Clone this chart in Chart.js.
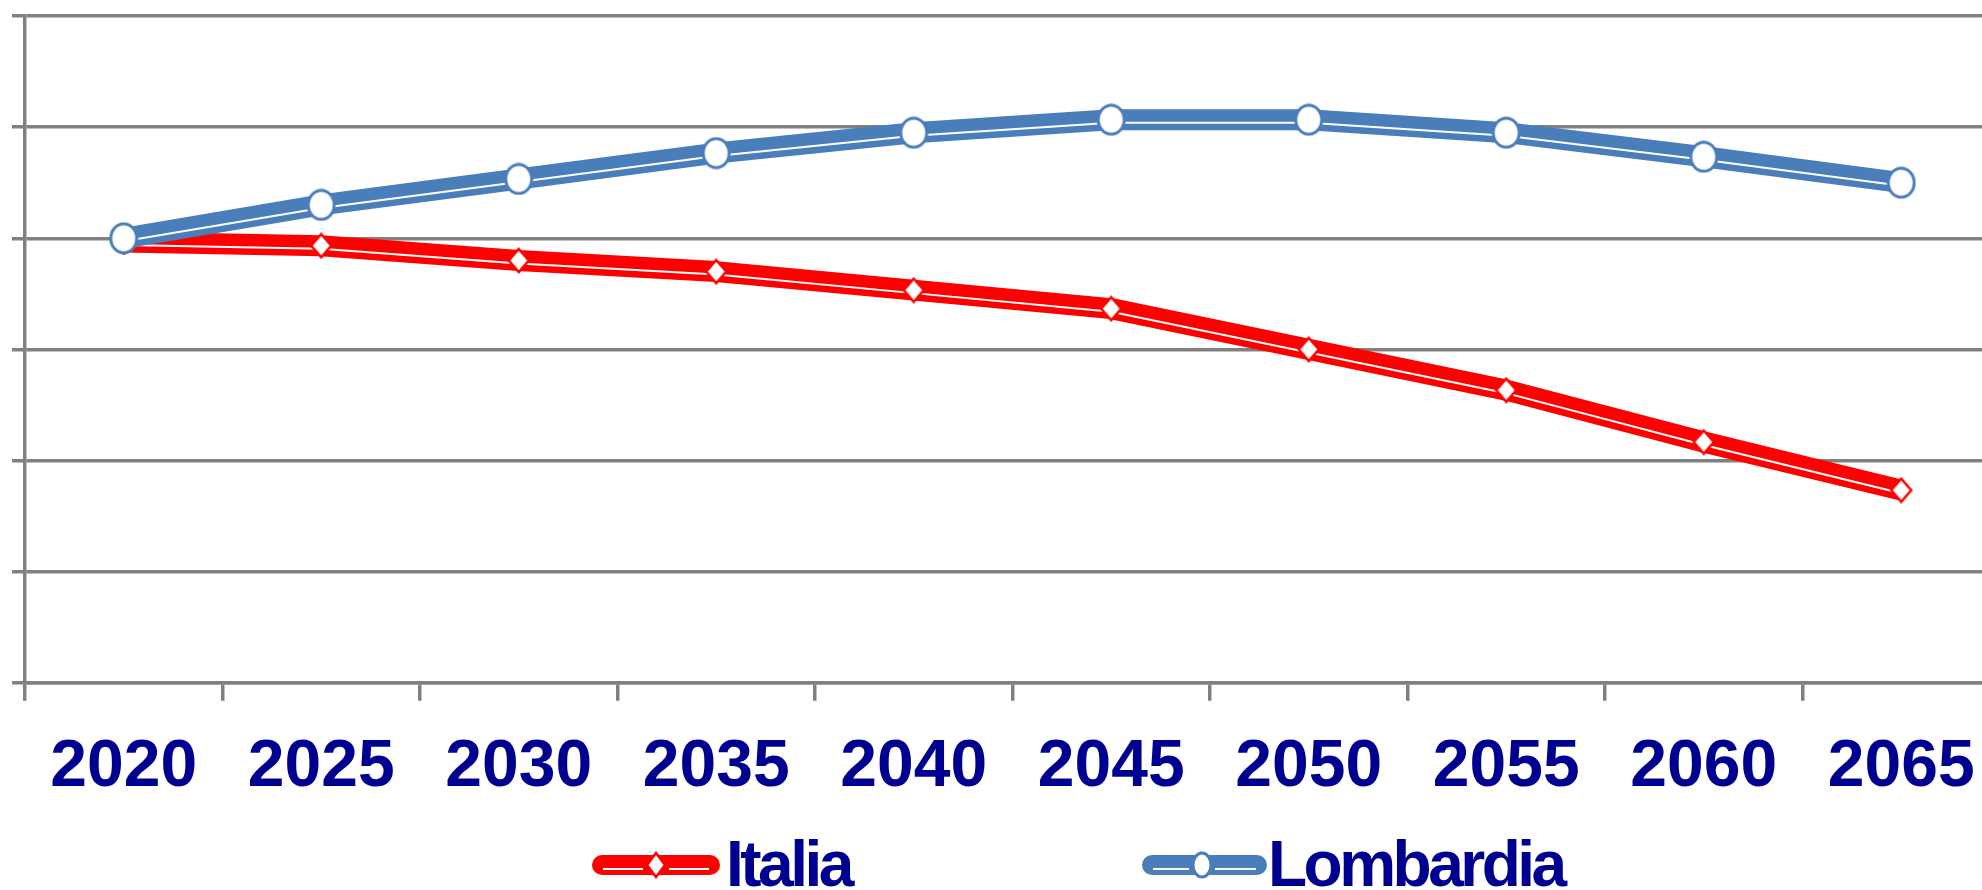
<!DOCTYPE html>
<html>
<head>
<meta charset="utf-8">
<script src="https://cdn.jsdelivr.net/npm/chart.js@4.4.0/dist/chart.umd.min.js"></script>
<style>
  html, body { margin: 0; padding: 0; background: #fff; overflow: hidden; }
  #wrap { position: relative; width: 1982px; height: 890px; overflow: hidden; }
  #chart { position: absolute; left: 0; top: 0; }
  .leg-line { position: absolute; height: 20px; border-radius: 10px; }
  .leg-inner { position: absolute; height: 2px; background: #fff; }
  .leg-mark { position: absolute; }
  .leg-text {
    position: absolute; font-family: "Liberation Sans", Arial, sans-serif; font-weight: bold;
    font-size: 64px; line-height: 64px; letter-spacing: -3.5px; color: #000090; white-space: nowrap;
  }
</style>
</head>
<body>
<div id="wrap">
  <canvas id="chart" width="2016" height="890"></canvas>
  <div id="legend"></div>
</div>
<script>
// years on the x axis
const years = ['2020', '2025', '2030', '2035', '2040', '2045', '2050', '2055', '2060', '2065'];

// index values (2020 = 100)
const italia    = [99.9, 99.8, 99.4, 99.1, 98.6, 98.1, 97.0, 95.9, 94.5, 93.2];
const lombardia = [100, 100.9, 101.6, 102.3, 102.85, 103.2, 103.2, 102.85, 102.2, 101.5];

const RED  = '#ff0000';
const BLUE = '#4a7ebb';
const GRID = '#808080';
const NAVY = '#000090';

// markers are a bit taller than wide in the original, so draw them as images
function makeEllipse(w, h, color) {
  const c = document.createElement('canvas');
  c.width = w; c.height = h;
  const g = c.getContext('2d');
  g.beginPath();
  g.ellipse(w / 2, h / 2, w / 2 - 2, h / 2 - 2, 0, 0, Math.PI * 2);
  g.fillStyle = '#fff';
  g.fill();
  g.lineWidth = 3;
  g.strokeStyle = color;
  g.stroke();
  return c;
}

function makeDiamond(w, h, color) {
  const c = document.createElement('canvas');
  c.width = w; c.height = h;
  const g = c.getContext('2d');
  g.beginPath();
  g.moveTo(w / 2, 2);
  g.lineTo(w - 2, h / 2);
  g.lineTo(w / 2, h - 2);
  g.lineTo(2, h / 2);
  g.closePath();
  g.fillStyle = '#fff';
  g.fill();
  g.lineWidth = 2.5;
  g.strokeStyle = color;
  g.stroke();
  return c;
}

const circleMark  = makeEllipse(30, 33, BLUE);
const diamondMark = makeDiamond(24, 27, RED);

// white inner line sits a little below the centre of the thick line
const shiftInner = {
  id: 'shiftInner',
  beforeDatasetDraw(chart, args) {
    if (chart.data.datasets[args.index].inner) { chart.ctx.save(); chart.ctx.translate(0, 3); }
  },
  afterDatasetDraw(chart, args) {
    if (chart.data.datasets[args.index].inner) chart.ctx.restore();
  }
};

function seriesSets(label, values, color, mark) {
  return [
    { label: label, data: values, showLine: false, pointStyle: mark, pointRadius: 15, pointHoverRadius: 15 },
    { label: label, data: values, inner: true, borderColor: '#fff', borderWidth: 2, pointRadius: 0, tension: 0 },
    { label: label, data: values, borderColor: color, borderWidth: 21, pointRadius: 0, tension: 0, borderJoinStyle: 'round' }
  ];
}

new Chart(document.getElementById('chart'), {
  type: 'line',
  data: {
    labels: years,
    datasets: [
      ...seriesSets('Lombardia', lombardia, BLUE, circleMark),
      ...seriesSets('Italia', italia, RED, diamondMark)
    ]
  },
  options: {
    responsive: false,
    devicePixelRatio: 1,
    animation: false,
    layout: { padding: { left: 12, top: 9, right: 0, bottom: 56 } },
    plugins: { legend: { display: false }, tooltip: { enabled: false } },
    scales: {
      x: {
        offset: true,
        grid: { offset: true, drawOnChartArea: false, color: GRID, lineWidth: 3.5, tickLength: 18 },
        border: { color: GRID, width: 3.5 },
        ticks: {
          color: NAVY, padding: 27, maxRotation: 0, autoSkip: false,
          font: { family: '"Liberation Sans", Arial, sans-serif', size: 66, weight: 'bold' }
        }
      },
      y: {
        min: 88, max: 106,
        ticks: { display: false, stepSize: 3 },
        grid: { color: GRID, lineWidth: 3.5, tickLength: 13 },
        border: { color: GRID, width: 3.5 }
      }
    }
  },
  plugins: [shiftInner]
});

// legend below the chart
const legendItems = [
  { label: 'Italia',    color: RED,  mark: makeDiamond(22, 28, RED),  x: 592,  w: 128, mx: 656,  tx: 726 },
  { label: 'Lombardia', color: BLUE, mark: makeEllipse(22, 28, BLUE), x: 1142, w: 125, mx: 1202, tx: 1268 }
];
const legend = document.getElementById('legend');
const cy = 865;
legendItems.forEach(it => {
  legend.innerHTML += `
    <div class="leg-line" style="left:${it.x}px;top:${cy - 10}px;width:${it.w}px;background:${it.color}"></div>
    <div class="leg-inner" style="left:${it.x + 11}px;top:${cy + 3}px;width:${it.mx - it.x - 24}px"></div>
    <div class="leg-inner" style="left:${it.mx + 13}px;top:${cy + 3}px;width:${it.x + it.w - it.mx - 24}px"></div>
    <img class="leg-mark" src="${it.mark.toDataURL()}" style="left:${it.mx - it.mark.width / 2}px;top:${cy - it.mark.height / 2}px">
    <div class="leg-text" style="left:${it.tx}px;top:832px">${it.label}</div>`;
});
</script>
</body>
</html>
